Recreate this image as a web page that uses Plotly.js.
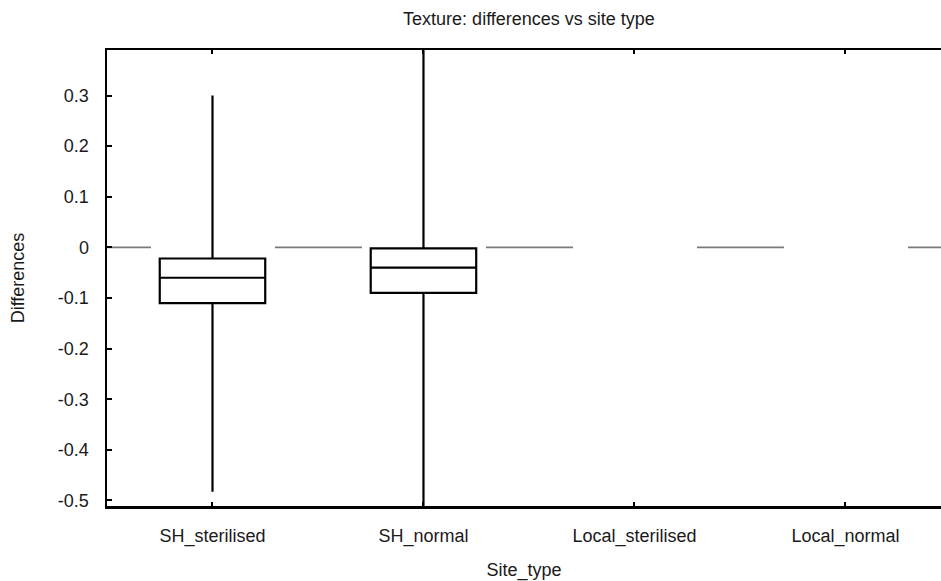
<!DOCTYPE html>
<html>
<head>
<meta charset="utf-8">
<script src="https://cdn.plot.ly/plotly-3.0.1.min.js"></script>
<style>html,body{margin:0;padding:0;background:#fff;}#chart{width:941px;height:581px;}</style>
</head>
<body>
<div id="chart"></div>
<script>
// Data
const categories = ["SH_sterilised", "SH_normal", "Local_sterilised", "Local_normal"];
const boxCategories = ["SH_sterilised", "SH_normal"];
const q1Values = [-0.11, -0.09];
const medianValues = [-0.06, -0.04];
const q3Values = [-0.022, -0.002];
const lowerWhisker = [-0.483, -0.56];
const upperWhisker = [0.30, 0.45];
const yTickValues = [-0.5, -0.4, -0.3, -0.2, -0.1, 0, 0.1, 0.2, 0.3];
const yTickLabels = ["-0.5", "-0.4", "-0.3", "-0.2", "-0.1", "0", "0.1", "0.2", "0.3"];
const referenceValue = 0;

const catIndex = boxCategories.map(c => categories.indexOf(c));
const font = "Liberation Sans, Arial, sans-serif";

const traces = [{
  type: "box",
  x: catIndex,
  q1: q1Values,
  median: medianValues,
  q3: q3Values,
  lowerfence: lowerWhisker,
  upperfence: upperWhisker,
  width: 0.5,
  whiskerwidth: 0,
  boxpoints: false,
  fillcolor: "#ffffff",
  line: {color: "#000000", width: 2.2},
  showlegend: false,
  hoverinfo: "skip"
}];

const layout = {
  width: 941,
  height: 581,
  margin: {l: 107, r: 0, t: 50, b: 75, pad: 0},
  paper_bgcolor: "#ffffff",
  plot_bgcolor: "#ffffff",
  font: {family: font, size: 18, color: "#1a1a1a"},
  showlegend: false,
  title: {
    text: "Texture: differences vs site type",
    font: {family: font, size: 18, color: "#1a1a1a"},
    xref: "container", x: 529 / 941, xanchor: "center",
    yref: "container", y: 1 - 19 / 581, yanchor: "middle"
  },
  xaxis: {
    range: [-0.5, 3.453],
    tickvals: categories.map((c, i) => i),
    ticktext: categories,
    ticks: "inside",
    ticklen: 4,
    tickwidth: 2,
    tickcolor: "#000",
    showline: true,
    linecolor: "#000",
    linewidth: 2.5,
    mirror: "ticks",
    showgrid: false,
    zeroline: false,
    ticklabelstandoff: 12,
    tickfont: {family: font, size: 18, color: "#1a1a1a"},
    title: {text: "Site_type", standoff: 19, font: {family: font, size: 18, color: "#1a1a1a"}},
    automargin: false
  },
  yaxis: {
    range: [-0.511, 0.39],
    tickvals: yTickValues,
    ticktext: yTickLabels,
    ticks: "inside",
    ticklen: 5,
    tickwidth: 2,
    tickcolor: "#000",
    showline: true,
    linecolor: "#000",
    linewidth: 2.5,
    mirror: false,
    showgrid: false,
    zeroline: false,
    ticklabelstandoff: 12,
    tickfont: {family: font, size: 18, color: "#1a1a1a"},
    title: {text: "Differences", standoff: 29, font: {family: font, size: 18, color: "#1a1a1a"}},
    automargin: false
  },
  shapes: [{
    type: "line", xref: "x", yref: "y",
    x0: -0.704, x1: 3.7, y0: referenceValue, y1: referenceValue,
    line: {color: "#7a7a7a", width: 1.8, dash: "87px,124px"},
    layer: "below"
  }]
};

Plotly.newPlot("chart", traces, layout, {staticPlot: true, displayModeBar: false});
</script>
</body>
</html>
